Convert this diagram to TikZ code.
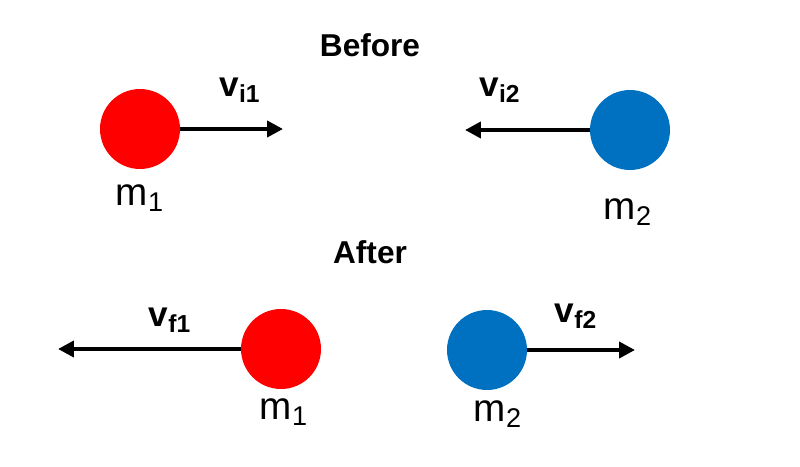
\documentclass[tikz,border=0pt]{standalone}
\usepackage{fontspec}
\setmainfont{Liberation Sans}
\usetikzlibrary{arrows.meta}
\definecolor{redball}{HTML}{FF0000}
\definecolor{blueball}{HTML}{0070C0}
\begin{document}
\begin{tikzpicture}[x=0.02cm,y=-0.02cm,
  ball/.style={circle,minimum size=1.6cm,inner sep=0pt},
  vel/.style={line width=2.2pt,-{Triangle[length=9pt,width=9pt]}},
  vlab/.style={font=\fontsize{20}{22}\selectfont\bfseries},
  mlab/.style={font=\fontsize{22}{24}\selectfont},
  title/.style={font=\fontsize{18}{20}\selectfont\bfseries}]
\useasboundingbox (0,0) rectangle (800,466);
\node[title] (before) at (370,45) {Before};
\node[title] (after) at (370,252) {After};
% before
\node[ball,fill=redball] (r1) at (140,129) {};
\coordinate (r1e) at (283,129);
\draw[vel] (r1.east) -- (r1e);
\node[vlab] (vi1) at (240,90) {v\textsubscript{i1}};
\node[mlab] (m1a) at (140,198) {m\textsubscript{1}};
\node[ball,fill=blueball] (b1) at (630,130) {};
\coordinate (b1e) at (465,130);
\draw[vel] (b1.west) -- (b1e);
\node[vlab] (vi2) at (500,90) {v\textsubscript{i2}};
\node[mlab] (m2a) at (628,212) {m\textsubscript{2}};
% after
\node[ball,fill=redball] (r2) at (281,349) {};
\coordinate (r2e) at (58,349);
\draw[vel] (r2.west) -- (r2e);
\node[vlab] (vf1) at (170,320) {v\textsubscript{f1}};
\node[mlab] (m1b) at (284,412) {m\textsubscript{1}};
\node[ball,fill=blueball] (b2) at (487,350) {};
\coordinate (b2e) at (635,350);
\draw[vel] (b2.east) -- (b2e);
\node[vlab] (vf2) at (576,316) {v\textsubscript{f2}};
\node[mlab] (m2b) at (498,414) {m\textsubscript{2}};
\end{tikzpicture}
\end{document}
